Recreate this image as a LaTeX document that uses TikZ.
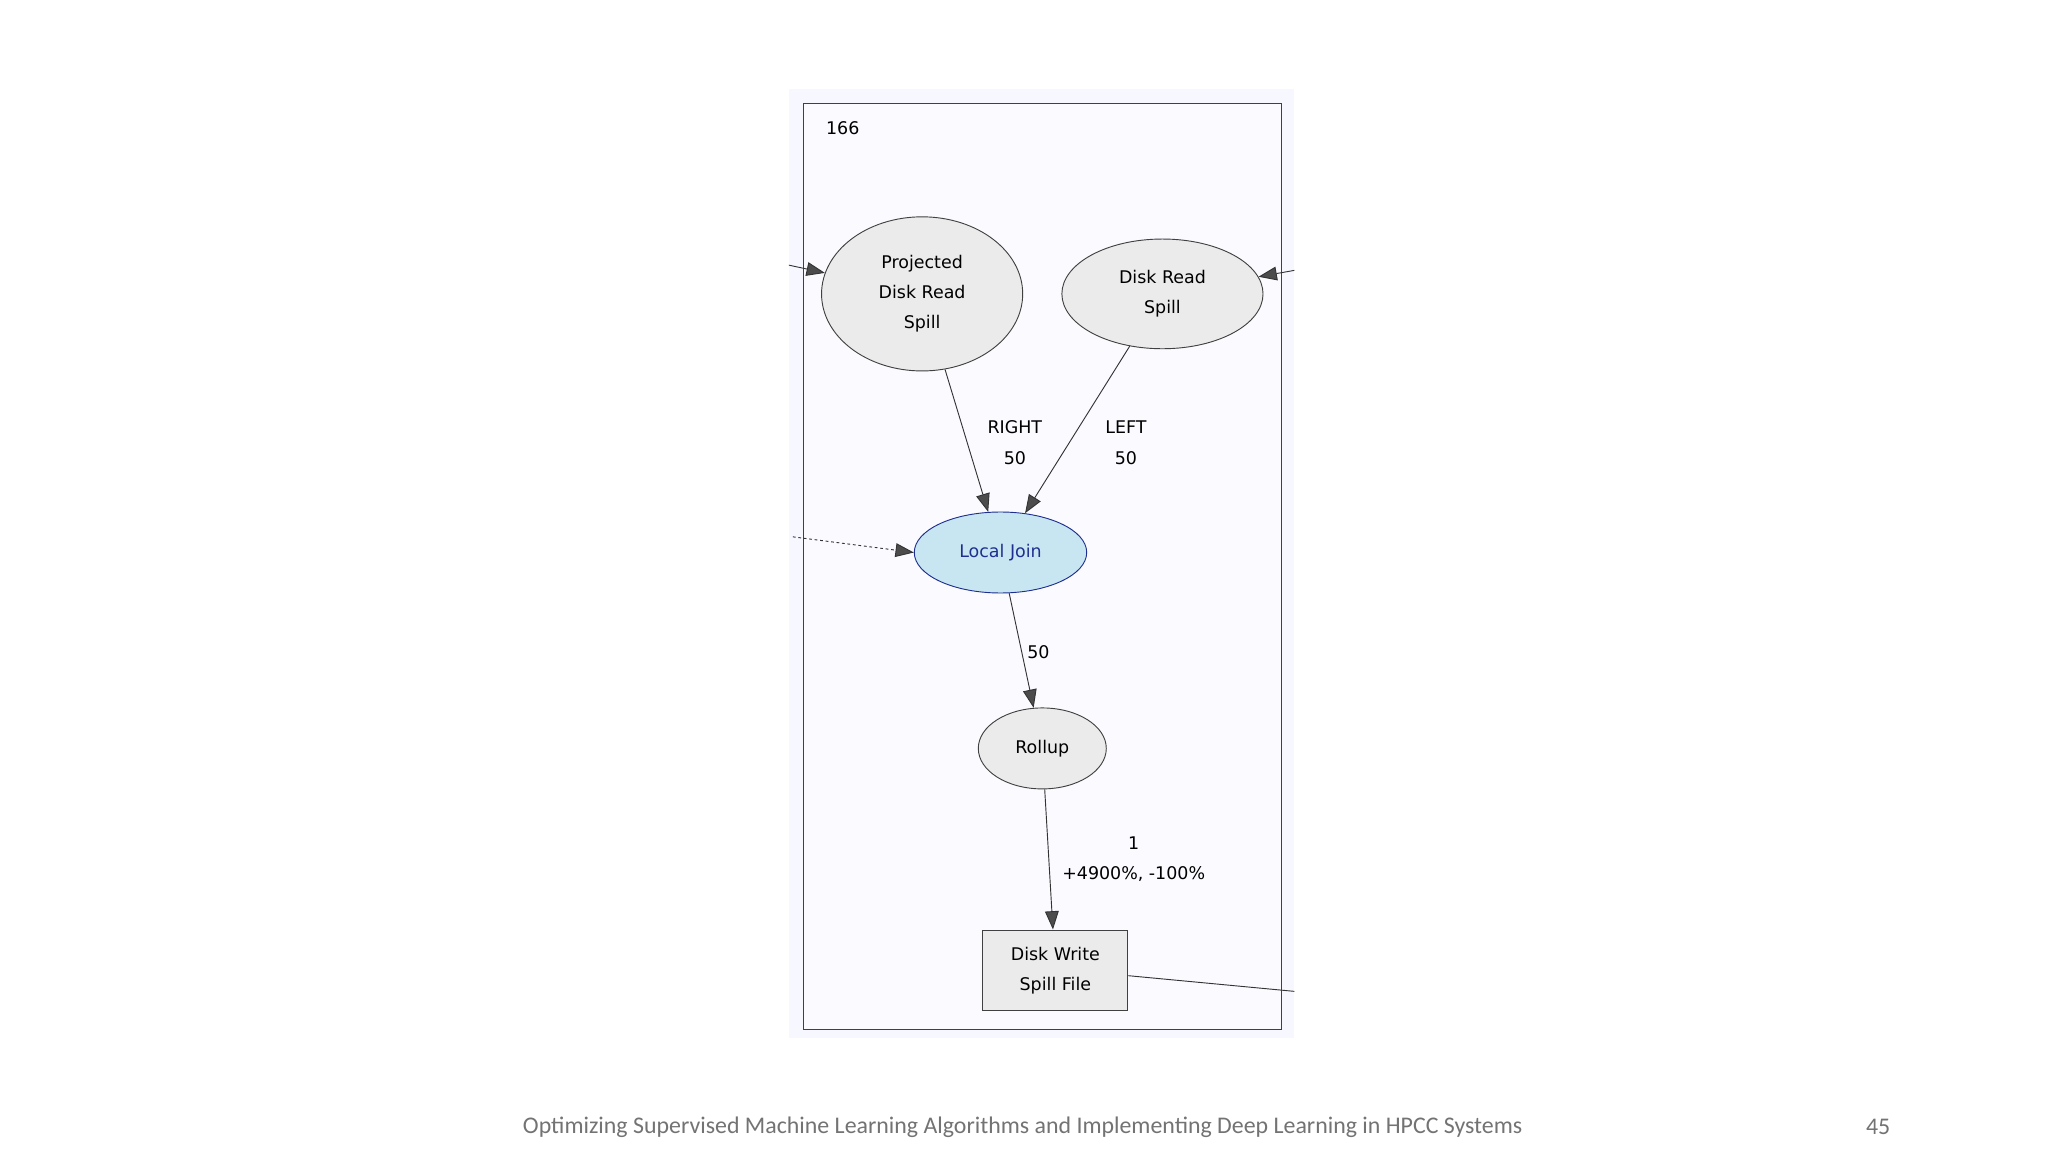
\documentclass[tikz,border=0pt]{standalone}
\usepackage{fontspec}
\setmainfont{DejaVu Sans}
\newfontfamily\footfont{Carlito}
\usetikzlibrary{shapes.geometric,arrows.meta}
\definecolor{ljfill}{HTML}{C8E6F2}
\definecolor{ljline}{HTML}{1F2F8F}
\definecolor{nodefill}{HTML}{EBEBEB}
\begin{document}
\begin{tikzpicture}[x=0.05cm,y=-0.05cm,
  lbl/.style={font=\fontsize{19}{33}\selectfont,align=center},
  ell/.style={ellipse,draw=black!75,fill=nodefill,line width=1pt,inner sep=0pt,lbl},
  edge/.style={draw=black!80,line width=1pt,-{Triangle[length=20pt,width=15pt,fill=black!70]}}]
\useasboundingbox (0,0) rectangle (1568,882);
\fill[white] (0,0) rectangle (1568,882);
\fill[blue!3] (604,68) rectangle (991,795);
\draw[black!75,fill=white!98!blue,line width=1pt] (615,79) rectangle (981,788);
\node[lbl,anchor=west] (t166) at (630,98) {166};
\node[ell,minimum width=154*0.05cm,minimum height=118*0.05cm] (pd) at (706,225) {Projected\\Disk Read\\Spill};
\node[ell,minimum width=154*0.05cm,minimum height=84*0.05cm] (dr) at (890,225) {Disk Read\\Spill};
\node[ellipse,draw=ljline,fill=ljfill,line width=1pt,lbl,text=ljline,minimum width=132*0.05cm,minimum height=62*0.05cm,inner sep=0pt] (lj) at (766,423) {Local Join};
\node[ell,minimum width=98*0.05cm,minimum height=62*0.05cm] (ru) at (798,573) {Rollup};
\node[rectangle,draw=black!75,fill=nodefill,line width=1pt,lbl,minimum width=111*0.05cm,minimum height=62*0.05cm] (dw) at (808,743) {Disk Write\\Spill File};
\coordinate (inL) at (604,203);
\coordinate (inR) at (991,207);
\coordinate (inD) at (607,411);
\coordinate (out) at (991,759);
\draw[edge] (inL) -- (pd);
\draw[edge] (inR) -- (dr);
\draw[edge,dashed] (inD) -- (lj.west);
\draw[edge] (pd) -- (lj);
\draw[edge] (dr) -- (lj);
\draw[edge] (lj) -- (ru);
\draw[edge] (ru) -- (dw);
\draw[black!80,line width=1pt] (dw.east) ++(0,4) -- (out);
\node[lbl] (l1) at (777,339) {RIGHT\\50};
\node[lbl] (l2) at (862,339) {LEFT\\50};
\node[lbl] (l3) at (795,499) {50};
\node[lbl] (l4) at (868,658) {1\\+4900\%, -100\%};
\node[font=\footfont\fontsize{26}{30}\selectfont,text=black!55] (ft) at (783,863) {Optimizing Supervised Machine Learning Algorithms and Implementing Deep Learning in HPCC Systems};
\node[font=\footfont\fontsize{26}{30}\selectfont,text=black!55] (pg) at (1438,863) {45};
\end{tikzpicture}
\end{document}
